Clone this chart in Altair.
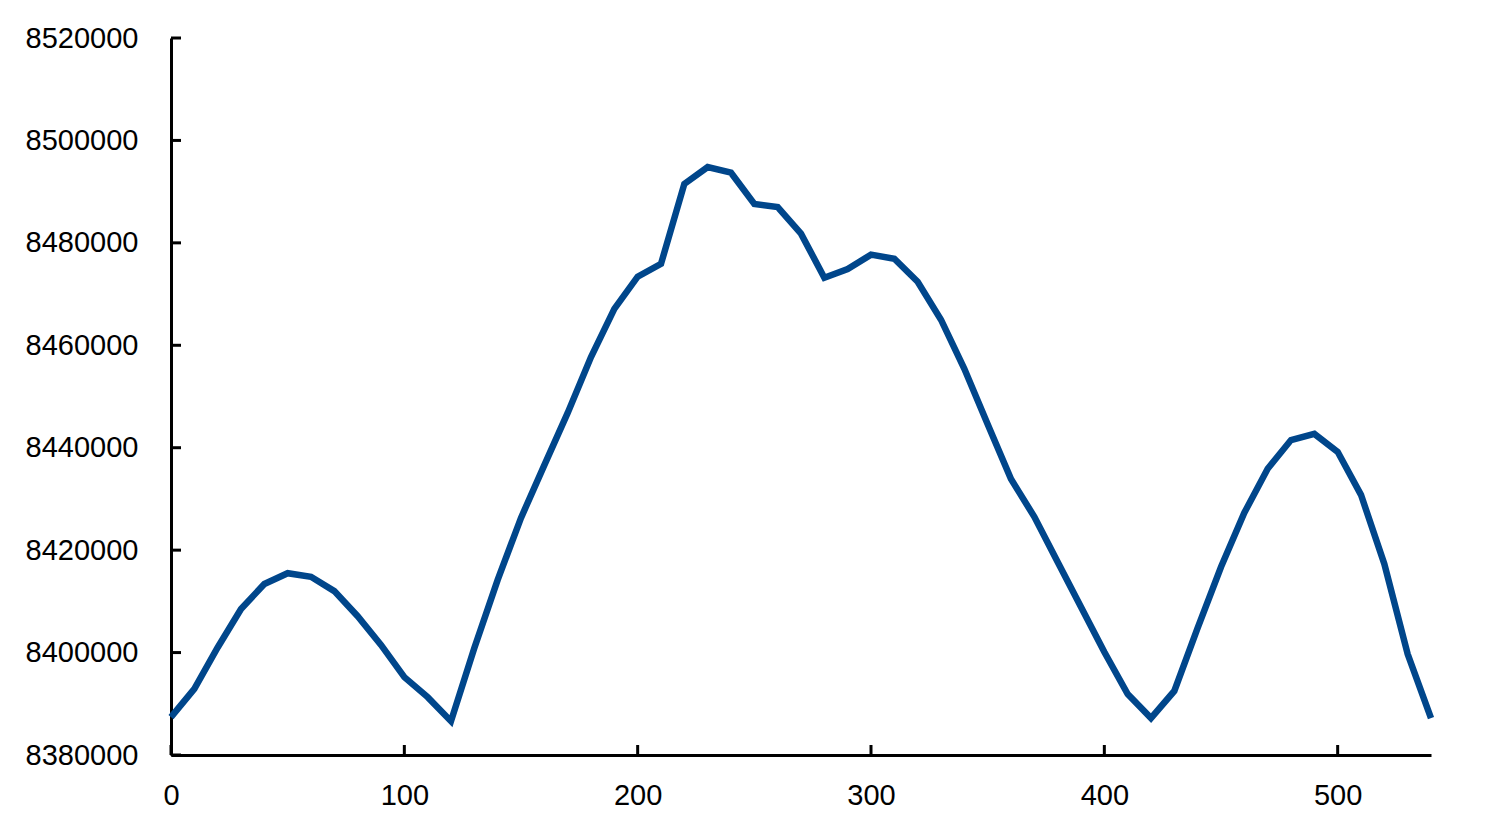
import altair as alt
import pandas as pd

x_vals = list(range(0, 550, 10))
y_vals = [8387400, 8392900, 8401000, 8408500, 8413400, 8415500, 8414800, 8412000,
          8407100, 8401500, 8395200, 8391300, 8386600, 8400900, 8414200, 8426300,
          8436600, 8446800, 8457700, 8467100, 8473400, 8475900, 8491500, 8494800,
          8493700, 8487600, 8487000, 8481800, 8473200, 8474900, 8477700, 8476900,
          8472400, 8465000, 8455400, 8444600, 8433900, 8426500, 8417700, 8408900,
          8400100, 8391900, 8387200, 8392500, 8404800, 8416700, 8427300, 8435900,
          8441500, 8442700, 8439200, 8430800, 8417300, 8399700, 8387200]

x_ticks = [0, 100, 200, 300, 400, 500]
y_ticks = [8380000, 8400000, 8420000, 8440000, 8460000, 8480000, 8500000, 8520000]

df = pd.DataFrame({"x": x_vals, "y": y_vals})
xt = pd.DataFrame({"x": x_ticks})
yt = pd.DataFrame({"y": y_ticks})

W, H = 1260, 717
FONT = "Liberation Sans"

xscale = alt.Scale(domain=[0, 540], nice=False, zero=False)
yscale = alt.Scale(domain=[8380000, 8520000], nice=False, zero=False)

line = alt.Chart(df).mark_line(color="#00468B", strokeWidth=6.5, strokeJoin="miter").encode(
    x=alt.X("x:Q", scale=xscale, title=None,
            axis=alt.Axis(values=x_ticks, ticks=False, tickSize=0, grid=False,
                          domainColor="black", domainWidth=3,
                          labelFont=FONT, labelFontSize=29, labelColor="black",
                          labelPadding=26, labelFlush=False)),
    y=alt.Y("y:Q", scale=yscale, title=None,
            axis=alt.Axis(values=y_ticks, ticks=False, tickSize=0, grid=False, format="d",
                          domainColor="black", domainWidth=3,
                          labelFont=FONT, labelFontSize=29, labelColor="black",
                          labelPadding=33, labelFlush=False)),
)

ytick_marks = alt.Chart(yt).mark_rule(color="black", strokeWidth=3).encode(
    y=alt.Y("y:Q", scale=yscale),
    x=alt.value(0), x2=alt.value(10),
)
xtick_marks = alt.Chart(xt).mark_rule(color="black", strokeWidth=3).encode(
    x=alt.X("x:Q", scale=xscale),
    y=alt.value(H), y2=alt.value(H - 10),
)

chart = alt.layer(line, ytick_marks, xtick_marks).properties(
    width=W, height=H,
    background="white",
    autosize=alt.AutoSizeParams(type="none"),
    padding={"left": 163, "top": 30, "right": 54, "bottom": 70},
).configure_view(strokeWidth=0, stroke=None)

chart.save("out.html", embed_options={"renderer": "svg", "actions": False})
